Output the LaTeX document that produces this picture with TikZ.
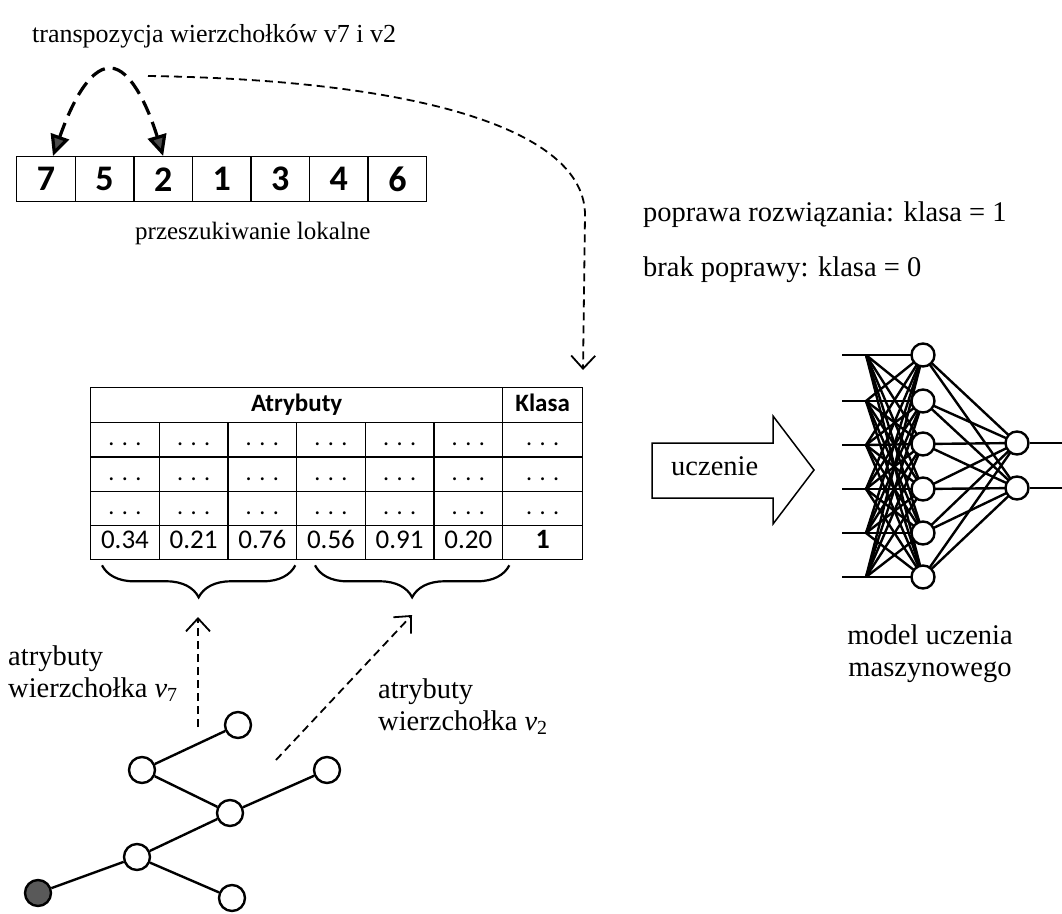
\documentclass[tikz,border=0pt]{standalone}
\usepackage{fontspec}
\setmainfont{Liberation Serif}
\newfontfamily\calfont{Carlito}
\usetikzlibrary{arrows.meta,decorations.pathreplacing,calc}

\newcommand\tdots{.\hspace{7.5pt}.\hspace{7.5pt}.}

\begin{document}
\begin{tikzpicture}[x=1pt,y=-1pt,
  txt/.style={font=\fontsize{28.5}{32}\selectfont, inner sep=0pt},
  permcell/.style={draw, line width=1.4pt, minimum width=58.57pt, minimum height=45pt,
    anchor=north west, inner sep=0pt, font=\calfont\bfseries\fontsize{36}{38}\selectfont},
  cell/.style={draw, line width=1.3pt, minimum width=68.67pt, minimum height=34.25pt,
    anchor=north west, inner sep=0pt, text height=17pt, text depth=5pt,
    font=\calfont\fontsize{27}{29}\selectfont},
  dotcell/.style={cell, font=\calfont\fontsize{24}{26}\selectfont},
  head/.style={cell, minimum height=35pt, font=\calfont\bfseries\fontsize{25}{27}\selectfont},
  vert/.style={circle, draw, line width=2.4pt, fill=white, minimum size=26pt, inner sep=0pt},
  neuron/.style={circle, draw, line width=2.4pt, fill=white, minimum size=23pt, inner sep=0pt},
  conn/.style={line width=2.4pt},
  swap/.style={line width=3.2pt, dash pattern=on 15pt off 8pt,
    {Triangle[length=21pt,width=19pt,fill=black!70]}-{Triangle[length=21pt,width=19pt,fill=black!70]}},
  flow/.style={line width=1.8pt, dash pattern=on 8pt off 5pt,
    -{Straight Barb[length=13pt,width=24pt,line width=1.8pt]}},
  brc/.style={line width=2.2pt, decorate, decoration={brace, mirror, amplitude=32pt}},
]
\useasboundingbox (0,0) rectangle (1062,913);

% ---- permutation ----
\node[txt, font=\fontsize{26}{30}\selectfont, anchor=base west] (title) at (32,42)
  {transpozycja wierzchołków v7 i v2};
\foreach \v [count=\i] in {7,5,2,1,3,4,6}
  \node[permcell] (p\i) at ({16+(\i-1)*58.57},156) {\v};
\node[txt, font=\fontsize{25}{30}\selectfont, anchor=base west] (ls) at (135,239)
  {przeszukiwanie lokalne};

\coordinate (peak) at (110,68);
\draw[swap] ([xshift=7pt]p1.north) .. controls (70,108) and (88,68) .. (peak)
  .. controls (132,68) and (150,113) .. (p3.north);

% ---- dashed link to the data table ----
\coordinate (src) at (148,76);
\coordinate (dst) at (583,370);
\draw[flow] (src) .. controls (420,80) and (585,130) .. (585,215) -- (dst);

\node[txt, anchor=base west] (c1) at (643,221) {poprawa rozwiązania: klasa = 1};
\node[txt, anchor=base west] (c0) at (643,276) {brak poprawy: klasa = 0};

% ---- data table ----
\node[head, minimum width=412pt] (hA) at (90,387) {Atrybuty};
\node[head, minimum width=80pt] (hK) at (502,387) {Klasa};
\foreach \r in {1,2,3}{
  \foreach \c in {1,...,6}
    \node[dotcell] (r\r-\c) at ({90+(\c-1)*68.667},{422+(\r-1)*34.25}) {\tdots};
  \node[dotcell, minimum width=80pt] (r\r-7) at (502,{422+(\r-1)*34.25}) {\tdots};
}
\foreach \v [count=\c] in {0.34,0.21,0.76,0.56,0.91,0.20}
  \node[cell] (r4-\c) at ({90+(\c-1)*68.667},524.75) {\v};
\node[cell, minimum width=80pt, font=\calfont\bfseries\fontsize{28}{30}\selectfont]
  (r4-7) at (502,524.75) {1};

\draw[brc] ($(r4-1.south west)+(12,5)$) -- ($(r4-3.south east)+(-2,5)$);
\draw[brc] ($(r4-4.south west)+(19,5)$) -- ($(r4-6.south east)+(6,5)$);

% ---- learning arrow ----
\draw[line width=1.5pt] (652,443) -- (773,443) -- (773,416) -- (814,470)
  -- (773,524) -- (773,498) -- (652,498) -- cycle;
\node[txt, anchor=base west] (learn) at (671,475) {uczenie};

% ---- neural network ----
\foreach \y [count=\i] in {355,401,445,489,533,577}{
  \coordinate (in\i) at (866,\y);
  \coordinate (st\i) at (842,\y);
}
\foreach \y [count=\i] in {355,401,444,489,533,577}
  \coordinate (hc\i) at (923,\y);
\foreach \i in {1,...,6}{
  \draw[conn] (st\i) -- (in\i);
  \foreach \j in {1,...,6}
    \draw[conn] (in\i) -- (hc\j);
}
\foreach \y [count=\k] in {443,488}{
  \coordinate (oc\k) at (1017,\y);
  \coordinate (ex\k) at (1062,\y);
}
\foreach \j in {1,...,6}
  \foreach \k in {1,2}
    \draw[conn] (hc\j) -- (oc\k);
\foreach \j in {1,...,6}
  \node[neuron] (h\j) at (hc\j) {};
\foreach \k in {1,2}{
  \node[neuron] (o\k) at (oc\k) {};
  \draw[conn] (o\k) -- (ex\k);
}
\node[txt, anchor=base, align=center] (model) at (930,676)
  {model uczenia\\[0pt]maszynowego};

% ---- tree of vertices ----
\node[vert, fill=black!65] (g0) at (38,893) {};
\node[vert] (ga) at (137,857) {};
\node[vert] (gb) at (230,813) {};
\node[vert] (gc) at (142,770) {};
\node[vert] (gd) at (238,725) {};
\node[vert] (ge) at (327,770) {};
\node[vert] (gf) at (232,898) {};
\draw[conn] (g0) -- (ga) (ga) -- (gb) (ga) -- (gf) (gb) -- (gc) (gc) -- (gd) (gb) -- (ge);

\coordinate (a7s) at (198,727);
\coordinate (a7e) at (198,617);
\coordinate (a2s) at (276,760);
\coordinate (a2e) at (412,615);
\draw[flow] (a7s) -- (a7e);
\draw[flow] (a2s) -- (a2e);

\node[txt, anchor=base west, align=left] (lab7) at (8,697)
  {atrybuty\\[0pt]wierzchołka \textit{v}\textsubscript{7}};
\node[txt, anchor=base west, align=left] (lab2) at (378,730)
  {atrybuty\\[0pt]wierzchołka \textit{v}\textsubscript{2}};
\end{tikzpicture}
\end{document}
